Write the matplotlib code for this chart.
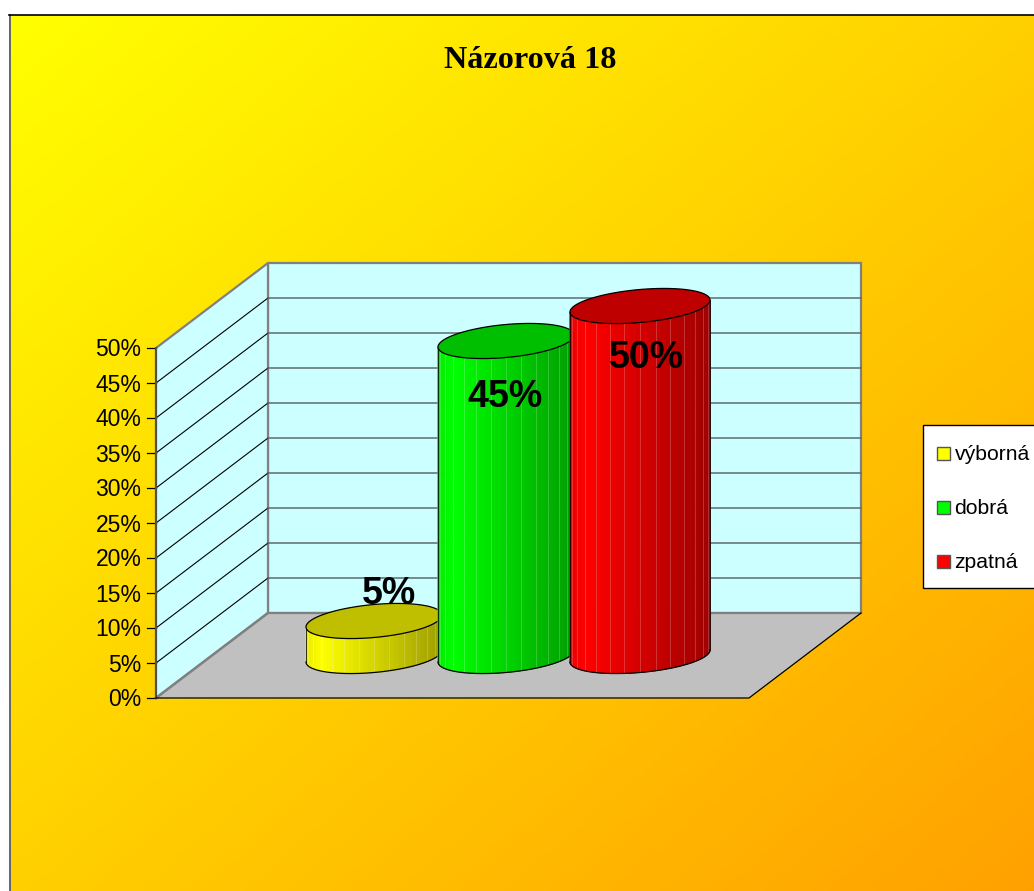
"""3-D cylinder column chart drawn by hand, matplotlib has no such bar style."""
import numpy as np
import matplotlib
matplotlib.use("Agg")
import matplotlib.pyplot as plt
from matplotlib.collections import PolyCollection
from matplotlib.patches import Polygon, Rectangle

TITLE = "Názorová 18"
categories = ["výborná", "dobrá", "zpatná"]
values = [5, 45, 50]
value_labels = ["5%", "45%", "50%"]
axis_ticks = [0, 5, 10, 15, 20, 25, 30, 35, 40, 45, 50]
colors = [(1.0, 1.0, 0.0), (0.0, 1.0, 0.0), (1.0, 0.0, 0.0)]

W, H = 1034, 891
SANS = "Liberation Sans"
SERIF = "Liberation Serif"

# box layout, in pixels
X0, X1 = 156, 749      # front edge of the floor
Y0 = 698               # front edge = 0%
PX_PER_PCT = 7.0
DX, DY = 112, -85      # depth offset of the back wall

# cylinders
CENTERS = [374, 506, 640]
BASE_Y = 656
RX = [68, 68, 70]
RY, SKEW = 16.5, 6
N_STRIPS = 42
LABEL_POS = [(389, 594), (505, 397), (646, 358)]


def val_y(v):
    return Y0 - v * PX_PER_PCT


def ellipse(cx, cy, rx, t):
    return cx + rx * np.cos(t), cy - RY * np.sin(t) - SKEW * np.cos(t)


def shade(u):
    # u goes 0..1 left to right across the body
    if u < 0.12:
        return 0.92 + 0.08 * u / 0.12
    return 1.0 - 0.38 * (u - 0.12) / 0.88


def draw_cylinder(ax, cx, rx, value, color, z):
    top_y = BASE_Y - value * PX_PER_PCT
    ts = np.linspace(np.pi, 2 * np.pi, N_STRIPS + 1)
    polys, fc = [], []
    for i in range(N_STRIPS):
        xa, ya = ellipse(cx, BASE_Y, rx, ts[i])
        xb, yb = ellipse(cx, BASE_Y, rx, ts[i + 1])
        xc, yc = ellipse(cx, top_y, rx, ts[i + 1])
        xd, yd = ellipse(cx, top_y, rx, ts[i])
        polys.append([(xa, ya), (xb, yb), (xc, yc), (xd, yd)])
        u = (xa + xb) / 2
        fc.append(np.array(color) * shade((u - cx + rx) / (2 * rx)))
    ax.add_collection(PolyCollection(polys, facecolors=fc, edgecolors=fc, linewidths=0.6, zorder=z))

    # faint lighter seams between the strips
    for i in range(3, N_STRIPS - 1, 3):
        xs, ys = ellipse(cx, BASE_Y, rx, ts[i])
        xe, ye = ellipse(cx, top_y, rx, ts[i])
        ax.plot([xs, xe], [ys, ye], color="white", alpha=0.2, lw=0.7, zorder=z)

    # outline of the body
    t = np.linspace(np.pi, 2 * np.pi, 80)
    bx, by = ellipse(cx, BASE_Y, rx, t)
    ax.plot(bx, by, color="black", lw=0.9, zorder=z + 0.1)
    ax.plot([bx[0], bx[0]], [by[0], by[0] - value * PX_PER_PCT], color="black", lw=0.55, zorder=z + 0.1)
    ax.plot([bx[-1], bx[-1]], [by[-1], by[-1] - value * PX_PER_PCT], color="black", lw=0.55, zorder=z + 0.1)

    # top face
    t = np.linspace(0, 2 * np.pi, 160)
    tx, ty = ellipse(cx, top_y, rx, t)
    ax.add_patch(Polygon(np.column_stack([tx, ty]), closed=True, facecolor=np.array(color) * 0.75,
                         edgecolor="black", lw=0.9, zorder=z + 0.2))


fig = plt.figure(figsize=(W / 100, H / 100), dpi=100, facecolor="white")
ax = fig.add_axes([0, 0, 1, 1])
ax.set_xlim(0, W)
ax.set_ylim(H, 0)
ax.axis("off")

# diagonal yellow to orange background
gy, gx = np.mgrid[0:1:220j, 0:1:256j]
mix = (gx + gy) / 2
grad = np.dstack([np.ones_like(mix), 1.0 - 0.37 * mix, np.zeros_like(mix)])
ax.imshow(grad, extent=(9, W, H, 15), aspect="auto", zorder=0)
ax.set_xlim(0, W)
ax.set_ylim(H, 0)
ax.plot([9.5, 9.5], [15, H], color="#666666", lw=1.4, zorder=1)
ax.plot([9, W], [15, 15], color="black", lw=1.2, zorder=1)

# walls and floor
top = val_y(axis_ticks[-1])
ax.add_patch(Polygon([(X0 + DX, Y0 + DY), (X1 + DX, Y0 + DY), (X1 + DX, top + DY), (X0 + DX, top + DY)],
                     facecolor="#CCFFFF", edgecolor="#808080", lw=1.6, zorder=2))
ax.add_patch(Polygon([(X0, Y0), (X0 + DX, Y0 + DY), (X0 + DX, top + DY), (X0, top)],
                     facecolor="#CCFFFF", edgecolor="#808080", lw=1.6, zorder=2))
ax.add_patch(Polygon([(X0, Y0), (X1, Y0), (X1 + DX, Y0 + DY), (X0 + DX, Y0 + DY)],
                     facecolor="#C0C0C0", edgecolor="none", zorder=2))
ax.plot([X0, X0 + DX], [Y0, Y0 + DY], color="#808080", lw=1.8, zorder=2.1)
ax.plot([X0 + DX, X1 + DX], [Y0 + DY, Y0 + DY], color="#808080", lw=1.6, zorder=2.1)

# gridlines and tick labels
for v in axis_ticks:
    y = val_y(v)
    if 0 < v < axis_ticks[-1]:
        ax.plot([X0, X0 + DX], [y, y + DY], color="black", lw=0.8, zorder=2.2)
        ax.plot([X0 + DX, X1 + DX], [y + DY, y + DY], color="#5F6B6B", lw=1.1, zorder=2.2)
    ax.plot([X0 - 9, X0], [y, y], color="black", lw=0.9, zorder=2.3)
    ax.text(141.5, y + 2, f"{v}%", ha="right", va="center", family=SANS, fontsize=16.5, color="black", zorder=3)

ax.plot([X0, X0], [Y0, top], color="#505050", lw=1.5, zorder=2.3)
ax.plot([X0, X1, X1 + DX], [Y0, Y0, Y0 + DY], color="black", lw=0.9, zorder=2.3)

# cylinders, left to right so each one covers the previous
for i, (cx, rx, v, c) in enumerate(zip(CENTERS, RX, values, colors)):
    draw_cylinder(ax, cx, rx, v, c, 4 + i)

for (lx, ly), txt in zip(LABEL_POS, value_labels):
    ax.text(lx, ly, txt, ha="center", va="center", family=SANS, fontweight="bold", fontsize=27, color="black", zorder=8)

ax.text(530, 60, TITLE, ha="center", va="center", family=SERIF, fontweight="bold", fontsize=23.2, color="black", zorder=8)

# legend
ax.add_patch(Rectangle((923, 425), 130, 163, facecolor="white", edgecolor="black", lw=1.0, zorder=8))
for i, (name, c) in enumerate(zip(categories, colors)):
    y = 453.5 + 54 * i
    ax.add_patch(Rectangle((937, y - 6.5), 13, 13, facecolor=c, edgecolor="#555555", lw=1.0, zorder=9))
    ax.text(954.5, y + 1.5, name, ha="left", va="center", family=SANS, fontsize=15.2, color="black", zorder=9)

fig.savefig("out.png", dpi=100)
